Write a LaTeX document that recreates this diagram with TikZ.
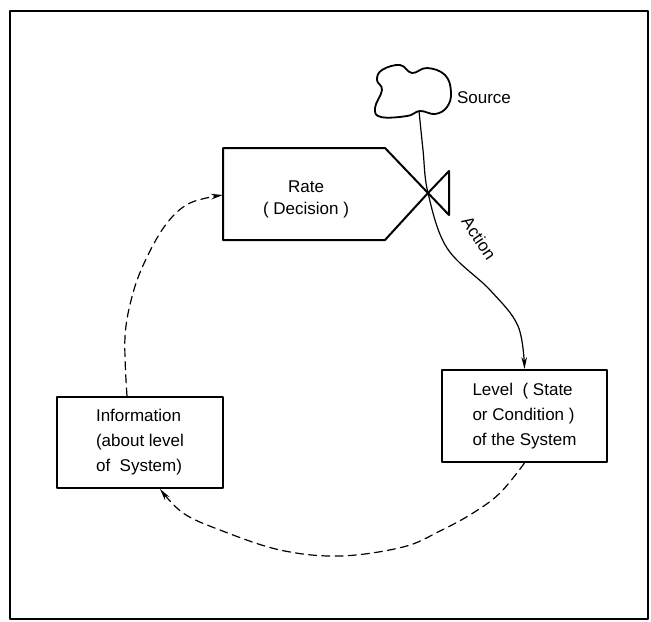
\documentclass[tikz,border=0pt]{standalone}
\usepackage{fontspec}
\setmainfont{Liberation Sans}
\usepackage{tikz}
\usetikzlibrary{arrows.meta}

\begin{document}
\begin{tikzpicture}[x=0.5pt, y=-0.5pt, line cap=round, line join=round,
  every node/.style={font=\fontsize{8.5}{12.5}\selectfont},
  stockbox/.style={draw, line width=1pt, minimum width=83pt, minimum height=46pt, align=left},
  flow/.style={line width=0.6pt, -{Stealth[length=6pt,width=2.8pt]}},
  infolink/.style={flow, dash pattern=on 4pt off 2.6pt}]
  \useasboundingbox (0,0) rectangle (651,621);
  \draw[line width=1.2pt] (10,11) rectangle (648,619);

  % rate (decision) with its valve
  \coordinate (rateNW) at (223,148);
  \coordinate (rateNE) at (385,148);
  \coordinate (rateSW) at (223,240);
  \coordinate (rateSE) at (385,240);
  \coordinate (valve) at (428,193);
  \coordinate (valveN) at (449,171);
  \coordinate (valveS) at (449,215);
  \coordinate (ratein) at (223,195);
  \draw[line width=1pt] (valve) -- (rateNE) -- (rateNW) -- (rateSW) -- (rateSE) -- (valve);
  \draw[line width=1pt] (valve) -- (valveS) -- (valveN) -- cycle;
  \node[align=center, font=\fontsize{8.5}{11}\selectfont] (rate) at (306,199) {Rate\\( Decision )};

  % source cloud
  \draw[line width=0.9pt] plot[smooth cycle, tension=0.7] coordinates {(382,70) (400,65) (412,73) (427,68) (445,75) (451,92) (447,107) (435,114) (420,111) (407,116) (381,117) (375,108) (382,90) (377,80)};
  \coordinate (cloudfoot) at (419,111);
  \node (source) at (484,98) {Source};

  % stocks
  \node[stockbox, minimum width=82.5pt] (level) at (524.5,416) {Level\ \ ( State\\or Condition )\\of the System};
  \node[stockbox, minimum height=45.5pt] (info) at (140,442.5) {Information\\(about level\\of\ \ System)};

  % action flow
  \draw[flow] plot[smooth, tension=0.6] coordinates {(cloudfoot) (423,150) (valve) (447,248) (490,290) (518,326) (level.north)};
  \node[rotate=-56] (action) at (479,238) {Action};

  % information links
  \draw[infolink] plot[smooth, tension=0.6] coordinates {(level.south) (500,493) (473,513) (440,531) (403,547) (340,556) (280,550) (220,530) (183,513) ([xshift=10pt]info.south)};
  \draw[infolink] plot[smooth, tension=0.6] coordinates {([xshift=-6.5pt]info.north) (125,337) (133,293) (147,257) (167,223) (190,203) (ratein)};
\end{tikzpicture}
\end{document}
